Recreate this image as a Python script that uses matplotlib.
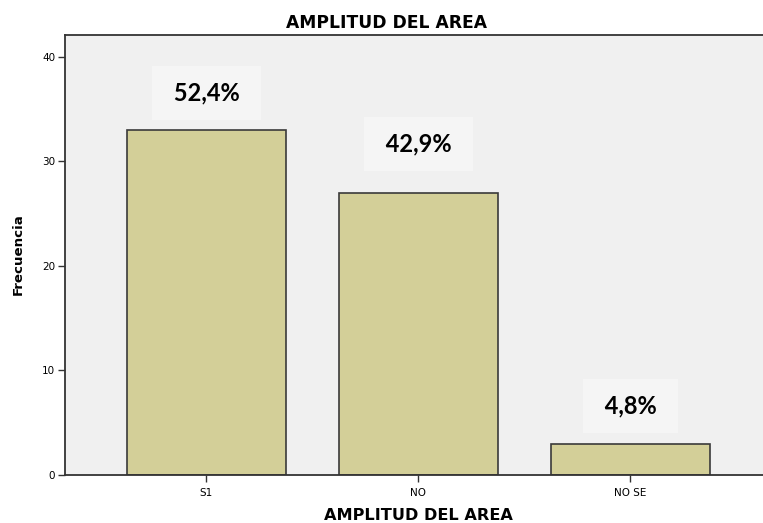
import matplotlib.pyplot as plt

categories = ["S1", "NO", "NO SE"]
counts = [33, 27, 3]
yticks = [0, 10, 20, 30, 40]

total = sum(counts)
percents = [100 * c / total for c in counts]

# separación vertical de cada etiqueta sobre su barra (puntos)
label_offsets = [27, 35, 27]

fig = plt.figure(figsize=(7.63, 5.23), dpi=100)
ax = fig.add_axes([65 / 763, 48 / 523, 1 - 65 / 763, 440 / 523])
ax.set_facecolor("#f0f0f0")

x = range(len(categories))
bars = ax.bar(x, counts, width=0.75, color="#d3cf98", edgecolor="#3a3a3a", linewidth=1.2)

ax.set_xlim(-0.667, 2.625)
ax.set_ylim(0, 42.1)
ax.set_yticks(yticks)
ax.set_yticklabels([str(t) for t in yticks], fontsize=7.5)
ax.set_xticks(list(x))
ax.set_xticklabels(categories, fontsize=7.5)
ax.tick_params(axis="both", length=5, width=1, color="#333333")
ax.tick_params(axis="x", pad=4)
ax.tick_params(axis="y", pad=2)

for side in ["left", "bottom", "top"]:
    ax.spines[side].set_color("#333333")
    ax.spines[side].set_linewidth(1.3)
ax.spines["right"].set_visible(False)

# porcentajes sobre cada barra
for bar, pct, off in zip(bars, percents, label_offsets):
    label = " " + f"{pct:.1f}%".replace(".", ",") + " "
    ax.annotate(
        label,
        (bar.get_x() + bar.get_width() / 2, bar.get_height()),
        xytext=(0, off),
        textcoords="offset points",
        ha="center",
        va="center",
        fontsize=17,
        fontweight="bold",
        family="Lato",
        bbox=dict(boxstyle="square,pad=0.66", facecolor="#f5f5f5", edgecolor="none"),
    )

fig.text(387 / 763, 1 - 28 / 523, "AMPLITUD DEL AREA", ha="center", va="baseline",
         fontsize=12.3, fontweight="bold")
fig.text(418 / 763, 1 - 520 / 523, "AMPLITUD DEL AREA", ha="center", va="baseline",
         fontsize=11.6, fontweight="bold")
fig.text(18 / 763, 1 - 254 / 523, "Frecuencia", ha="center", va="center", rotation=90,
         fontsize=9.6, fontweight="bold")

fig.savefig("out.png", dpi=100)
